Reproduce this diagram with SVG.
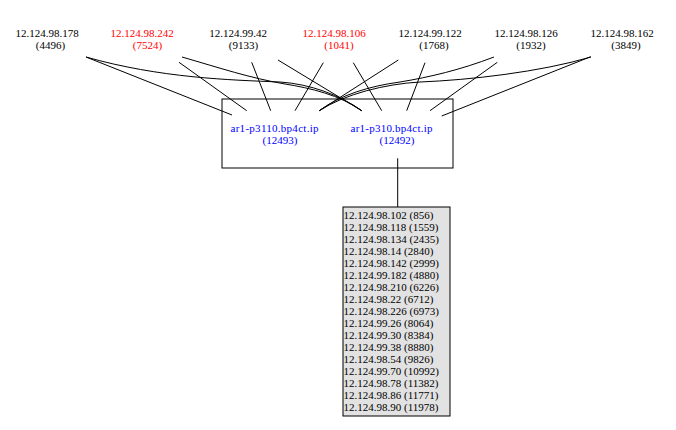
<svg xmlns="http://www.w3.org/2000/svg" width="676" height="430" viewBox="0 0 676 430">
<style>
text{font-family:"Liberation Serif","Times New Roman",serif;font-size:11px;fill:#000}
.c{text-anchor:middle}
.red{fill:#ff0000}
.blue{fill:#0000ff}
.e{fill:none;stroke:#000;stroke-width:1}
.lst{text-anchor:start}
</style>
<rect width="676" height="430" fill="#fff"/>
<g id="top-nodes">
<g id="n1"><text class="c" x="47" y="36.5">12.124.98.178</text><text class="c" x="50.5" y="48.5">(4496)</text></g>
<g id="n2"><text class="c red" x="142" y="36.5">12.124.98.242</text><text class="c red" x="147.5" y="48.5">(7524)</text></g>
<g id="n3"><text class="c" x="238" y="36.5">12.124.99.42</text><text class="c" x="243.5" y="48.5">(9133)</text></g>
<g id="n4"><text class="c red" x="334" y="36.5">12.124.98.106</text><text class="c red" x="339" y="48.5">(1041)</text></g>
<g id="n5"><text class="c" x="430" y="36.5">12.124.99.122</text><text class="c" x="434" y="48.5">(1768)</text></g>
<g id="n6"><text class="c" x="526" y="36.5">12.124.98.126</text><text class="c" x="531" y="48.5">(1932)</text></g>
<g id="n7"><text class="c" x="622" y="36.5">12.124.98.162</text><text class="c" x="626" y="48.5">(3849)</text></g>
</g>
<g id="cluster"><rect x="222" y="99" width="231" height="69" fill="none" stroke="#000"/></g>
<g id="i1"><text class="c blue" x="274.5" y="131.5" textLength="88" lengthAdjust="spacing">ar1-p3110.bp4ct.ip</text><text class="c blue" x="280" y="143.5">(12493)</text></g>
<g id="i2"><text class="c blue" x="391.5" y="131.5" textLength="82" lengthAdjust="spacing">ar1-p310.bp4ct.ip</text><text class="c blue" x="397" y="143.5">(12492)</text></g>
<g id="connectors">
<line class="e" x1="86" y1="57" x2="232" y2="115"/>
<line class="e" x1="179" y1="62.3" x2="246.7" y2="110.7"/>
<line class="e" x1="251.7" y1="62.3" x2="270.7" y2="110.7"/>
<line class="e" x1="323.3" y1="62.7" x2="295" y2="110.7"/>
<line class="e" x1="398.3" y1="60" x2="319.3" y2="110.7"/>
<path class="e" d="M494,57 C460,70 430,77 400,82 C370,86 340,95 319.3,110.7"/>
<path class="e" d="M591,57 C540,72 470,80 420,82 C385,84 345,94 319.3,110.7"/>
<path class="e" d="M86,57 C160,78 230,80 280,82 C310,84 340,95 361.7,110.7"/>
<path class="e" d="M182,57 C220,68 250,78 285,84 C310,88 340,95 361.7,110.7"/>
<line class="e" x1="278" y1="60" x2="361.7" y2="110.7"/>
<line class="e" x1="353.3" y1="62.7" x2="381.7" y2="110.7"/>
<line class="e" x1="425" y1="62.7" x2="406.7" y2="110.7"/>
<line class="e" x1="497.3" y1="62.3" x2="430" y2="110.7"/>
<line class="e" x1="590.7" y1="56.7" x2="441.7" y2="116"/>
<line class="e" x1="397.7" y1="158.3" x2="397.7" y2="207"/>
</g>
<g id="list">
<rect x="343" y="207" width="107" height="209" fill="#e2e2e2" stroke="#000"/>
<text class="lst" x="343.5" y="218.5">12.124.98.102 (856)</text>
<text class="lst" x="343.5" y="230.55">12.124.98.118 (1559)</text>
<text class="lst" x="343.5" y="242.6">12.124.98.134 (2435)</text>
<text class="lst" x="343.5" y="254.65">12.124.98.14 (2840)</text>
<text class="lst" x="343.5" y="266.7">12.124.98.142 (2999)</text>
<text class="lst" x="343.5" y="278.75">12.124.99.182 (4880)</text>
<text class="lst" x="343.5" y="290.8">12.124.98.210 (6226)</text>
<text class="lst" x="343.5" y="302.85">12.124.98.22 (6712)</text>
<text class="lst" x="343.5" y="314.9">12.124.98.226 (6973)</text>
<text class="lst" x="343.5" y="326.95">12.124.99.26 (8064)</text>
<text class="lst" x="343.5" y="339">12.124.99.30 (8384)</text>
<text class="lst" x="343.5" y="351.05">12.124.99.38 (8880)</text>
<text class="lst" x="343.5" y="363.1">12.124.98.54 (9826)</text>
<text class="lst" x="343.5" y="375.15">12.124.99.70 (10992)</text>
<text class="lst" x="343.5" y="387.2">12.124.98.78 (11382)</text>
<text class="lst" x="343.5" y="399.25">12.124.98.86 (11771)</text>
<text class="lst" x="343.5" y="411.3">12.124.98.90 (11978)</text>
</g>
</svg>
